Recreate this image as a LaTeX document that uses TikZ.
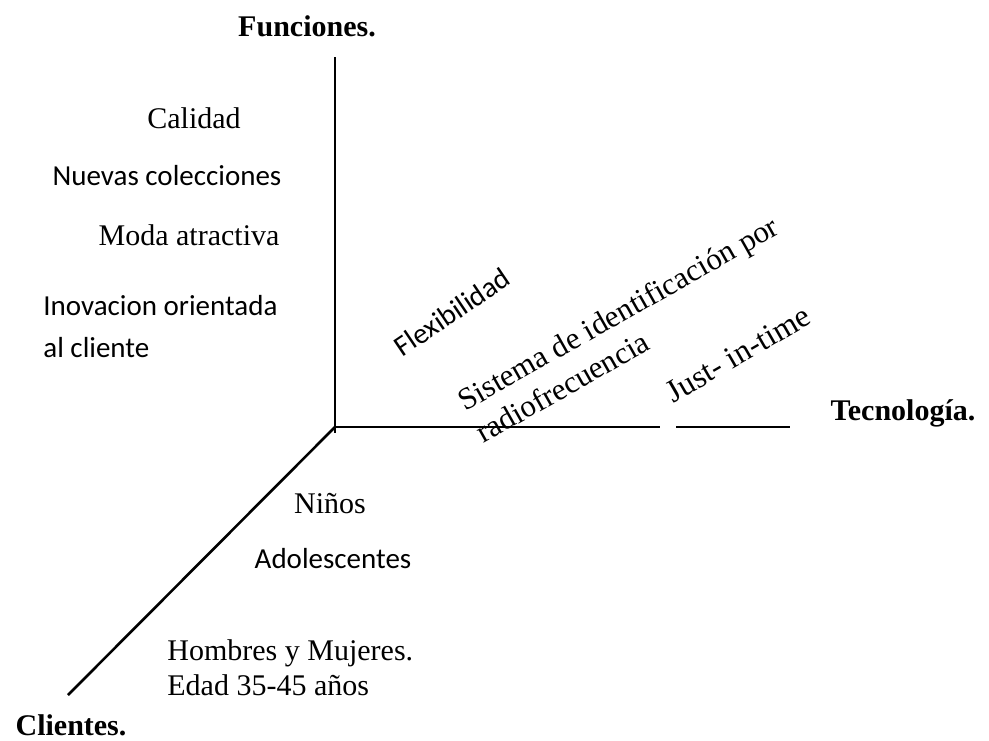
\documentclass[tikz,border=0pt]{standalone}
\usepackage{fontspec}
\setmainfont{Liberation Serif}
\newfontfamily\calib{Carlito}
\begin{document}
\begin{tikzpicture}[x=0.5pt,y=-0.5pt,
  serif/.style={font=\fontsize{15}{18}\selectfont, inner sep=0pt},
  sans/.style={font=\calib\fontsize{14.5}{18}\selectfont, inner sep=0pt},
  axislabel/.style={font=\bfseries\fontsize{15}{18}\selectfont, inner sep=0pt},
  axis/.style={line width=1.3pt}]
\useasboundingbox (0,0) rectangle (989,740);
% axes
\coordinate (O) at (335,427);
\coordinate (Otop) at (335,57);
\coordinate (Obot) at (335,433);
\coordinate (H1) at (660,427);
\coordinate (H2) at (676,427);
\coordinate (H3) at (790,427);
\coordinate (D) at (68,695);
\draw[axis] (Otop) -- (Obot);
\draw[axis] (O) -- (H1);
\draw[axis] (H2) -- (H3);
\draw[axis] (O) -- (D);
% axis labels
\node[axislabel, anchor=base] (fun) at (307,36) {Funciones.};
\node[axislabel, anchor=base] (tec) at (903,420) {Tecnología.};
\node[axislabel, anchor=base] (cli) at (71,735) {Clientes.};
% functions
\node[serif, anchor=base] (cal) at (194,128) {Calidad};
\node[sans, anchor=base] (nue) at (167,185) {Nuevas colecciones};
\node[serif, anchor=base] (mod) at (189,245) {Moda atractiva};
\node[sans, anchor=base west] (ino1) at (43,315) {Inovacion orientada};
\node[sans, anchor=base west] (ino2) at (43,357) {al cliente};
% technology
\node[sans, rotate=34] (flex) at (452,312) {Flexibilidad};
\node[serif, rotate=29.5, align=left, font=\fontsize{15.5}{18.5}\selectfont] (sis) at (627,329) {Sistema de identificación por\\radiofrecuencia};
\node[serif, rotate=30, font=\fontsize{16}{19}\selectfont] (jit) at (738,354) {Just- in-time};
% clients
\node[serif, anchor=base] (nin) at (330,513) {Niños};
\node[sans, anchor=base] (ado) at (333,568) {Adolescentes};
\node[serif, anchor=base west] (hom) at (167,660) {Hombres y Mujeres.};
\node[serif, anchor=base west] (eda) at (167,695) {Edad 35-45 años};
\end{tikzpicture}
\end{document}
